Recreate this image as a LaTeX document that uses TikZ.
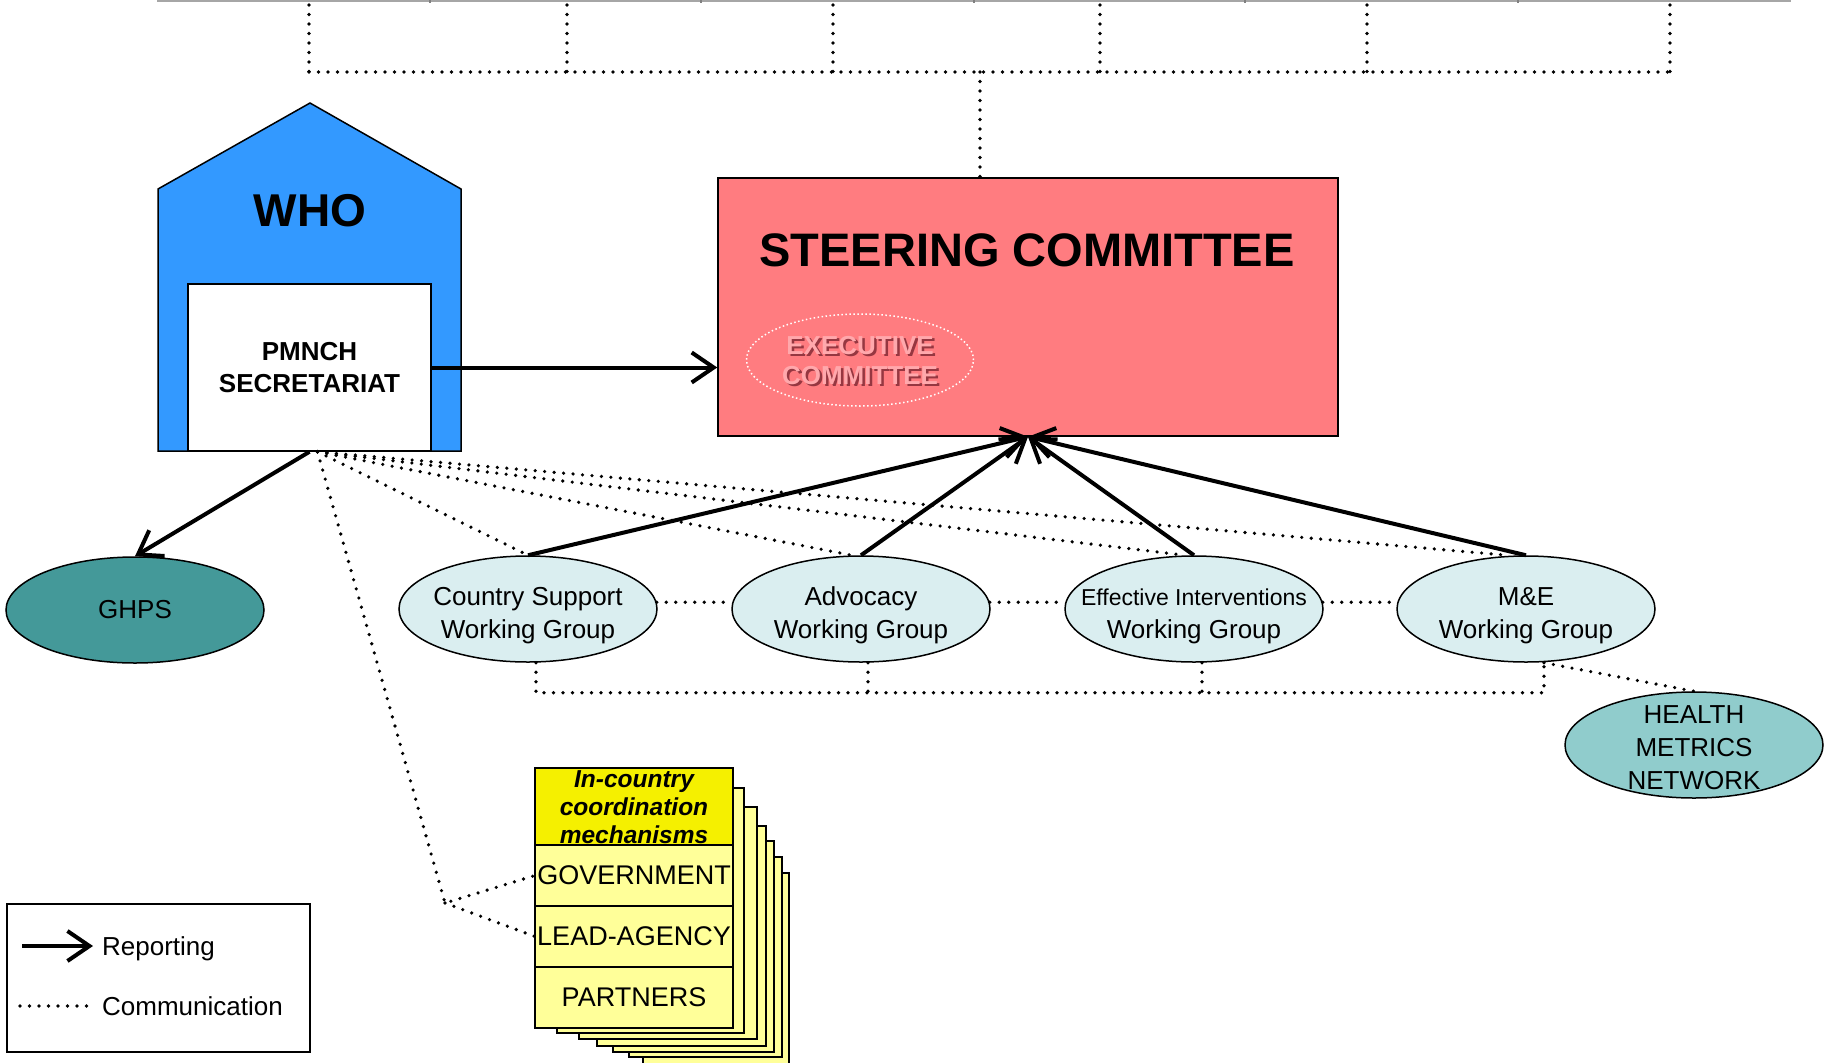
\documentclass[tikz,border=0pt]{standalone}
\usepackage{fontspec}
\setmainfont{Liberation Sans}
\usetikzlibrary{shapes.geometric,arrows.meta,positioning}

\definecolor{whoblue}{RGB}{51,153,255}
\definecolor{steerred}{RGB}{255,124,128}
\definecolor{ghpsteal}{RGB}{68,153,153}
\definecolor{wgcyan}{RGB}{218,238,240}
\definecolor{hmnteal}{RGB}{144,204,204}
\definecolor{hdryellow}{RGB}{245,240,0}
\definecolor{sheetyellow}{RGB}{255,255,153}
\definecolor{execlight}{RGB}{255,168,172}
\definecolor{execdark}{RGB}{150,55,65}

\newcommand{\wgstrut}{\rule{0pt}{31pt}}

\tikzset{
  report/.style={line width=4pt, -{Straight Barb[length=22pt,width=30pt]}},
  comm/.style={line width=3.6pt, line cap=round, dash pattern=on 0pt off 9.5pt},
  group/.style={ellipse, draw, line width=1.5pt, fill=wgcyan, minimum width=258pt,
    minimum height=106pt, inner sep=-30pt, align=center, font=\fontsize{26}{33}\selectfont},
  cell/.style={rectangle, draw, line width=2pt, fill=sheetyellow, minimum width=198pt,
    minimum height=61pt, inner sep=0pt, outer sep=0pt, font=\fontsize{27}{30}\selectfont},
  sheet/.style={draw, line width=2pt, fill=sheetyellow},
  exectxt/.style={align=center, font=\fontsize{26}{30}\selectfont\bfseries},
}

\begin{document}
\begin{tikzpicture}[x=1pt,y=-1pt]
\useasboundingbox ( 0, 0 ) rectangle ( 1824, 1063 );

% верхняя линия
\draw [gray!70, line width=1.5pt] ( 157, 1 ) -- ( 1791, 1 );
\foreach \x in {430,701,974,1245,1518}
  \draw [gray, line width=1.5pt] ( \x, 0 ) -- ( \x, 3 );
\foreach \x in {309,567,833,1100,1367,1670}
  \draw [comm] ( \x, 5 ) -- ( \x, 72 );
\draw [comm] ( 309, 72 ) -- ( 1670, 72 );
\coordinate (hub) at ( 980, 72 );

% ВОЗ
\filldraw [fill=whoblue, line width=1.5pt] ( 158, 451 ) -- ( 158, 189 ) -- ( 310, 103 )
  -- ( 461, 189 ) -- ( 461, 451 ) -- cycle;
\node [font=\fontsize{46}{50}\selectfont\bfseries] (who) at ( 310, 211 ) {WHO};
\node [draw, line width=1.5pt, fill=white, minimum width=243pt, minimum height=167pt,
  align=center, font=\fontsize{26}{32}\selectfont\bfseries] (pmnch) at ( 309.5, 367.5 )
  {PMNCH\\SECRETARIAT};

% руководящий комитет
\node [draw, line width=1.5pt, fill=steerred, minimum width=620pt, minimum height=258pt]
  (steer) at ( 1028, 307 ) {};
\node [font=\fontsize{47}{50}\selectfont\bfseries] (steertitle) at ( 1027, 250 )
  {STEERING COMMITTEE};
\node [ellipse, draw=white, line width=1.5pt, dash pattern=on 1.5pt off 2.5pt,
  minimum width=227pt, minimum height=92pt] (exec) at ( 860, 360 ) {};
\node [exectxt, text=execdark] at ([shift={(2.5pt,-2.5pt)}]exec.center) {EXECUTIVE\\COMMITTEE};
\node [exectxt, text=execlight] (exectitle) at ([yshift=-1pt]exec.center) {EXECUTIVE\\COMMITTEE};
\draw [comm] (hub) -- (hub |- steer.north);

% рабочие группы
\node [group, fill=ghpsteal] (ghps) at ( 135, 610 ) {GHPS};
\node [group] (cs) at ( 528, 609 ) {\wgstrut Country Support\\Working Group};
\node [group] (adv) at ( 861, 609 ) {\wgstrut Advocacy\\Working Group};
\node [group] (eff) at ( 1194, 609 )
  {\wgstrut\fontsize{23}{28}\selectfont Effective Interventions\\\fontsize{26}{33}\selectfont Working Group};
\node [group] (me) at ( 1526, 609 ) {\wgstrut M\&E\\Working Group};
\node [group, fill=hmnteal, font=\fontsize{26}{33}\selectfont] (hmn) at ( 1694, 745 )
  {\rule{0pt}{24pt}HEALTH\\METRICS\\NETWORK};

% механизмы в странах
\foreach \l/\t/\r/\b in {643/873/789/1075, 629/857/782/1057, 613/841/774/1052,
    597/826/766/1046, 579/807/757/1039, 557/788/744/1033}
  \filldraw [sheet] ( \l, \t ) rectangle ( \r, \b );
\node [cell, fill=hdryellow, minimum height=77pt] (hdr) at ( 634, 806.5 ) {};
\node [align=center, font=\fontsize{24.5}{28}\selectfont\bfseries\itshape] (hdrtext)
  at ([yshift=-1pt]hdr.center) {In-country\\coordination\\mechanisms};
\node [cell, below=0pt of hdr] (gov) {GOVERNMENT};
\node [cell, below=0pt of gov] (lead) {LEAD-AGENCY};
\node [cell, below=0pt of lead] (partners) {PARTNERS};

% отчётность
\draw [report] (pmnch.east) -- (pmnch.east -| steer.west);
\draw [report] (pmnch.south) -- (ghps.north);
\foreach \g in {cs,adv,eff,me}
  \draw [report] (\g.north) -- (steer.south);

% связь
\coordinate (fan) at ([xshift=8pt]pmnch.south);
\coordinate (fork) at ( 445, 903 );
\draw [comm] (fan) -- (cs.north);
\draw [comm] (fan) -- ([xshift=-9pt]adv.north);
\draw [comm] (fan) -- ([xshift=-9pt]eff.north);
\draw [comm] (fan) -- ([xshift=-19pt]me.north);
\draw [comm] (fan) -- (fork) -- (gov.west);
\draw [comm] (fork) -- (lead.west);
\draw [comm] (cs.3) -- (adv.177);
\draw [comm] (adv.3) -- (eff.177);
\draw [comm] (eff.3) -- (me.177);
\draw [comm] ([xshift=8pt]cs.south) -- ++( 0, 30 ) -| ([xshift=18pt]me.south);
\draw [comm] ([xshift=7pt]adv.south) -- ++( 0, 30 );
\draw [comm] ([xshift=8pt]eff.south) -- ++( 0, 30 );
\draw [comm] ([xshift=18pt]me.south) -- (hmn.north);

% легенда
\draw [line width=1.5pt] ( 7, 904 ) rectangle ( 310, 1052 );
\draw [report] ( 22, 946 ) -- ( 93, 946 );
\node [anchor=base west, inner sep=0pt, font=\fontsize{26}{30}\selectfont] (lgrep)
  at ( 102, 955 ) {Reporting};
\draw [comm] ( 20, 1006 ) -- ( 88, 1006 );
\node [anchor=base west, inner sep=0pt, font=\fontsize{26}{30}\selectfont] (lgcomm)
  at ( 102, 1015 ) {Communication};
\end{tikzpicture}
\end{document}
